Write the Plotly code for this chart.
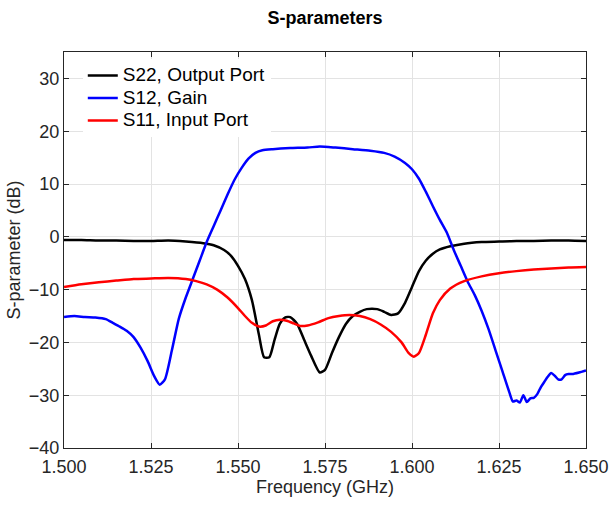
import plotly.graph_objects as go

s22_f = [1.500, 1.505, 1.510, 1.515, 1.520, 1.525, 1.530, 1.535, 1.540, 1.543, 1.546, 1.548, 1.550, 1.552,
         1.554, 1.556, 1.5575, 1.559, 1.5605, 1.562, 1.5635, 1.565, 1.567, 1.569, 1.571, 1.5735, 1.575, 1.577,
         1.579, 1.581, 1.583, 1.585, 1.587, 1.590, 1.592, 1.594, 1.596, 1.598, 1.600, 1.602, 1.604, 1.606,
         1.608, 1.611, 1.615, 1.620, 1.625, 1.630, 1.635, 1.640, 1.645, 1.650]
s22_db = [-0.6, -0.6, -0.7, -0.7, -0.8, -0.8, -0.7, -0.9, -1.2, -1.6, -2.5, -3.6, -5.5, -8.0,
          -12.0, -18.5, -22.8, -22.8, -19.5, -16.5, -15.3, -15.2, -16.5, -19.5, -22.5, -25.7, -25.2, -22.0,
          -19.0, -16.5, -15.0, -14.2, -13.7, -13.7, -14.2, -14.8, -14.5, -12.5, -9.5, -6.5, -4.5, -3.2,
          -2.4, -1.8, -1.3, -1.0, -0.9, -0.8, -0.8, -0.7, -0.7, -0.8]

s12_f = [1.500, 1.503, 1.506, 1.509, 1.512, 1.514, 1.516, 1.518, 1.520, 1.522, 1.524, 1.526, 1.5275, 1.529,
         1.531, 1.533, 1.535, 1.537, 1.539, 1.541, 1.543, 1.545, 1.547, 1.549, 1.551, 1.553, 1.555, 1.557,
         1.560, 1.565, 1.570, 1.5735, 1.578, 1.583, 1.588, 1.592, 1.595, 1.598, 1.600, 1.602, 1.604, 1.606,
         1.608, 1.610, 1.612, 1.614, 1.616, 1.618, 1.620, 1.622, 1.624, 1.626, 1.628, 1.629, 1.630, 1.631,
         1.632, 1.633, 1.634, 1.635, 1.636, 1.637, 1.638, 1.639, 1.640, 1.641, 1.642, 1.643, 1.644, 1.645,
         1.646, 1.648, 1.650]
s12_db = [-15.2, -15.0, -15.2, -15.3, -15.6, -16.3, -17.0, -17.8, -19.0, -21.0, -23.5, -26.5, -28.0, -27.0,
          -21.5, -15.5, -11.5, -8.0, -4.5, -1.0, 2.0, 5.0, 8.0, 10.8, 13.0, 14.8, 15.9, 16.4,
          16.6, 16.8, 16.9, 17.1, 16.9, 16.6, 16.3, 15.9, 15.2, 14.0, 12.8, 11.0, 8.5, 5.8,
          3.2, 0.8, -2.5, -5.5, -8.5, -11.0, -14.0, -17.5, -21.5, -25.5, -29.5, -31.2, -31.0, -31.4,
          -30.0, -31.3, -30.6, -30.5, -29.8, -28.5, -27.5, -26.5, -25.8, -26.3, -27.0, -27.0, -26.2, -26.0,
          -26.0, -25.7, -25.3]

s11_f = [1.500, 1.505, 1.510, 1.515, 1.520, 1.525, 1.530, 1.535, 1.538, 1.541, 1.544, 1.547, 1.550, 1.552,
         1.554, 1.556, 1.558, 1.560, 1.562, 1.564, 1.566, 1.568, 1.570, 1.573, 1.576, 1.579, 1.582, 1.585,
         1.588, 1.591, 1.594, 1.597, 1.599, 1.6005, 1.602, 1.604, 1.606, 1.608, 1.611, 1.615, 1.620, 1.625,
         1.630, 1.635, 1.640, 1.645, 1.650]
s11_db = [-9.5, -9.0, -8.6, -8.3, -8.0, -7.9, -7.8, -8.0, -8.4, -9.0, -10.0, -11.5, -13.5, -15.0,
          -16.3, -17.0, -16.8, -16.0, -15.7, -15.9, -16.4, -16.9, -16.8, -16.2, -15.4, -15.0, -14.8, -15.0,
          -15.6, -16.6, -18.0, -20.0, -22.0, -22.7, -22.0, -18.5, -14.5, -12.0, -9.8, -8.4, -7.5, -6.9,
          -6.5, -6.2, -6.0, -5.8, -5.7]

x_ticks = [1.500, 1.525, 1.550, 1.575, 1.600, 1.625, 1.650]
x_labels = ["1.500", "1.525", "1.550", "1.575", "1.600", "1.625", "1.650"]
y_ticks = [-40, -30, -20, -10, 0, 10, 20, 30]

FONT = "Liberation Sans, Arial, sans-serif"
AX = "#262626"

fig = go.Figure()
for f, v, name, col in [(s22_f, s22_db, "S22, Output Port", "black"),
                        (s12_f, s12_db, "S12, Gain", "#0000ff"),
                        (s11_f, s11_db, "S11, Input Port", "#ff0000")]:
    fig.add_trace(go.Scatter(x=f, y=v, mode="lines",
                             name='<span style="font-size:19px">' + name + '</span>',
                             line=dict(color=col, width=2.5, shape="spline", smoothing=0.6)))

axis_common = dict(showline=True, linecolor=AX, linewidth=1, mirror="ticks",
                   ticks="inside", ticklen=5, tickcolor=AX, showgrid=True,
                   gridcolor="#e3e3e3", gridwidth=1, zeroline=False, automargin=False,
                   tickfont=dict(family=FONT, size=18, color=AX))

fig.update_layout(
    width=611, height=506,
    margin=dict(l=64, r=25, t=52, b=58),
    paper_bgcolor="white", plot_bgcolor="white",
    title=dict(text="<b>S-parameters</b>", x=0.532, xanchor="center", y=0.965, yanchor="middle",
               font=dict(family=FONT, size=18, color="black")),
    xaxis=dict(range=[1.5, 1.65], tickvals=x_ticks, ticktext=x_labels, ticklabelstandoff=2,
               title=dict(text="Frequency (GHz)", font=dict(family=FONT, size=18, color=AX), standoff=3),
               **axis_common),
    yaxis=dict(range=[-40, 35], tickvals=y_ticks,
               title=dict(text="S-parameter (dB)", font=dict(family=FONT, size=18, color=AX), standoff=3),
               **axis_common),
    legend=dict(x=0.036, y=0.982, xanchor="left", yanchor="top", bgcolor="white",
                borderwidth=0, font=dict(family=FONT, size=15, color="black"),
                tracegroupgap=0, itemwidth=30),
    showlegend=True,
)

fig.write_html("out.html")
